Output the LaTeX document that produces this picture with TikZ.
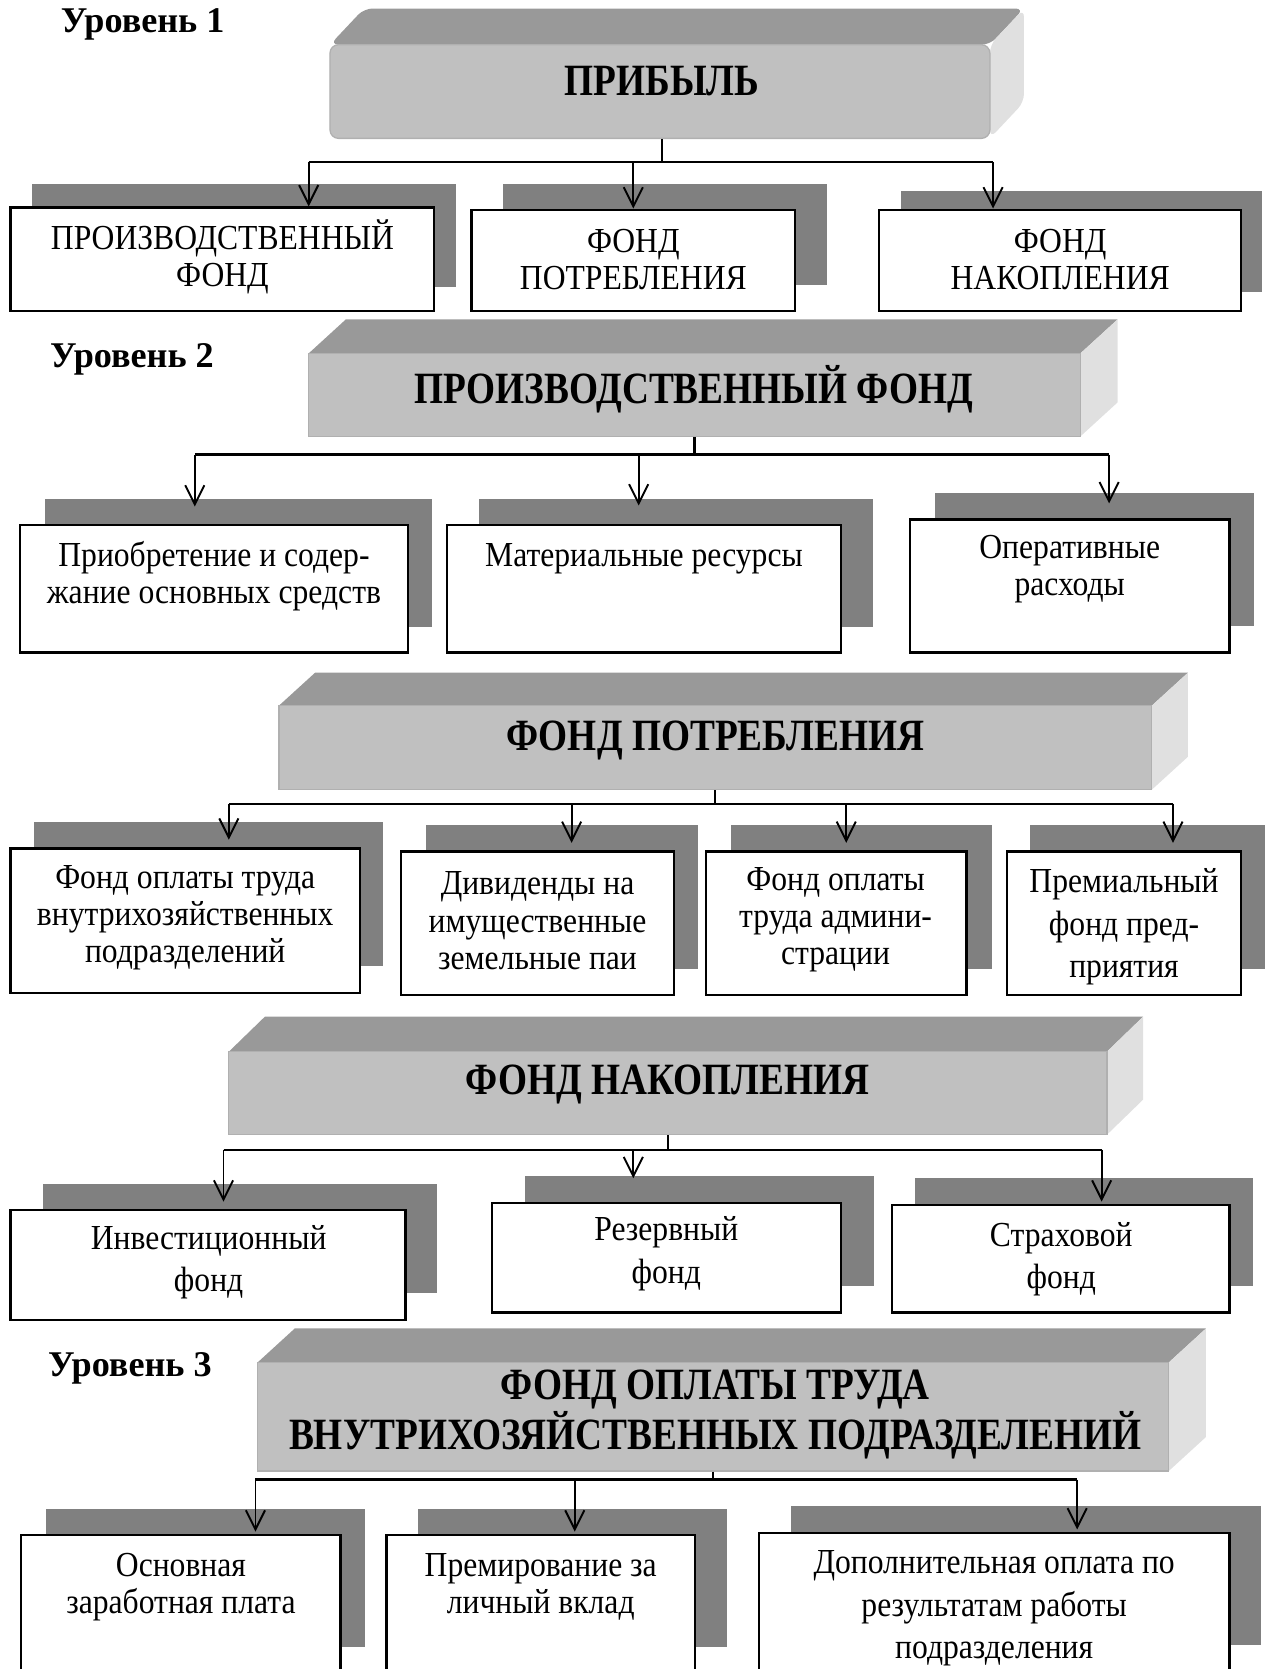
\documentclass[tikz,border=0pt]{standalone}
\usepackage{fontspec}
\setmainfont{Liberation Serif}
\newfontfamily\condfont[FakeStretch=0.9]{Liberation Serif}
\newfontfamily\hdrfont[FakeStretch=0.835]{Liberation Serif}
\usetikzlibrary{arrows.meta,calc}
\definecolor{topgray}{HTML}{999999}
\definecolor{frontgray}{HTML}{C0C0C0}
\definecolor{sidegray}{HTML}{E0E0E0}
\definecolor{shgray}{HTML}{808080}
\definecolor{edgegray}{HTML}{B0B0B0}
% child box: name x1 y1 x2 y2 dx dy
\newcommand{\cbox}[7]{%
  \fill[shgray] (#2+#6,#3-#7) rectangle (#4+#6,#5-#7);
  \node[cboxstyle, minimum width={(#4-#2)*0.5pt}, minimum height={(#5-#3)*0.5pt}] (#1) at ({(#2+#4)/2},{(#3+#5)/2}) {};
}
% header 3D box: [opts] name x1 y1 x2 y2 dx dy
\newcommand{\hdr}[8][]{%
  \fill[topgray,#1] (#3,#4) -- (#3+#7,#4-#8) -- (#5+#7,#4-#8) -- (#5,#4) -- cycle;
  \fill[sidegray,#1] (#5,#4) -- (#5+#7,#4-#8) -- (#5+#7,#6-#8) -- (#5,#6) -- cycle;
  \node[hboxstyle,#1, minimum width={(#5-#3)*0.5pt}, minimum height={(#6-#4)*0.5pt}] (#2) at ({(#3+#5)/2},{(#4+#6)/2}) {};
}
\begin{document}
\begin{tikzpicture}[x=0.5pt,y=-0.5pt,
  cboxstyle/.style={draw=black, line width=1.1pt, fill=white, inner sep=0pt},
  hboxstyle/.style={fill=frontgray, draw=edgegray, line width=0.6pt, inner sep=0pt},
  txt/.style={align=center, inner sep=0pt, font=\condfont\fontsize{16.5}{17.5}\selectfont},
  txtw/.style={align=center, inner sep=0pt, font=\condfont\fontsize{16.5}{20}\selectfont},
  htxt/.style={align=center, inner sep=0pt, font=\hdrfont\bfseries\fontsize{21}{20.5}\selectfont},
  lvl/.style={font=\bfseries\fontsize{17}{20}\selectfont, inner sep=0pt},
  conn/.style={line width=1pt},
  arr/.style={line width=0.9pt, -{Straight Barb[length=9pt,width=9pt,line width=0.9pt]}}
]
\useasboundingbox (0,0) rectangle (1195,1568);
\clip (0,0) rectangle (1195,1568);

% ---------------- Level labels
\node[lvl] (L1) at (134,23) {Уровень 1};
\node[lvl] (L2) at (124,338) {Уровень 2};
\node[lvl] (L3) at (122,1286) {Уровень 3};

% ---------------- Group 1
\hdr[rounded corners=4pt]{H1}{310}{42}{930}{130}{32}{34}
\node[htxt] (H1t) at (622,76) {ПРИБЫЛЬ};
\cbox{C11}{10}{195}{408}{292}{20}{22}
\cbox{C12}{443}{197}{747}{292}{30}{24}
\cbox{C13}{826}{197}{1166}{292}{20}{18}
\node[txt] (T11) at (209,241) {ПРОИЗВОДСТВЕННЫЙ\\ФОНД};
\node[txt] (T12) at (595,244) {ФОНД\\ПОТРЕБЛЕНИЯ};
\node[txt] (T13) at (996,244) {ФОНД\\НАКОПЛЕНИЯ};
\coordinate (b1l) at (290,152);
\coordinate (b1m) at (595,152);
\coordinate (b1r) at (933,152);
\draw[conn] (H1.south -| 622,0) -- (622,152);
\draw[conn] (b1l) -- (b1r);
\draw[arr] (b1l) -- (b1l |- C11.north);
\draw[arr] (b1m) -- (b1m |- C12.north);
\draw[arr] (b1r) -- (b1r |- C13.north);

% ---------------- Group 2
\hdr{H2}{290}{332}{1015}{410}{35}{32}
\node[htxt] (H2t) at (652,366) {ПРОИЗВОДСТВЕННЫЙ ФОНД};
\cbox{C21}{19}{493}{383}{613}{23}{24}
\cbox{C22}{420}{493}{790}{613}{30}{24}
\cbox{C23}{855}{488}{1155}{613}{23}{25}
\node[txt] (T21) at (201,541) {Приобретение и содер-\\жание основных средств};
\node[txt] (T22) at (605,525) {Материальные ресурсы};
\node[txt] (T23) at (1005,535) {Оперативные\\расходы};
\coordinate (b2l) at (183,427);
\coordinate (b2m) at (600,427);
\coordinate (b2r) at (1042,427);
\draw[conn] (H2.south) -- (H2.south |- b2l);
\draw[conn] (b2l) -- (b2r);
\draw[arr, shorten >=8pt] (b2l) -- (b2l |- C21.north);
\draw[arr, shorten >=8.5pt] (b2m) -- (b2m |- C22.north);
\draw[arr, shorten >=7pt] (b2r) -- (b2r |- C23.north);

% ---------------- Group 3
\hdr{H3}{262}{663}{1082}{742}{34}{31}
\node[htxt] (H3t) at (672,696) {ФОНД ПОТРЕБЛЕНИЯ};
\cbox{C31}{10}{797}{338}{933}{22}{25}
\cbox{C32}{377}{800}{633}{935}{23}{25}
\cbox{C33}{663}{800}{908}{935}{24}{25}
\cbox{C34}{946}{800}{1166}{935}{22}{25}
\node[txt] (T31) at (174,862) {Фонд оплаты труда\\внутрихозяйственных\\подразделений};
\node[txt] (T32) at (505,865) {Дивиденды на\\имущественные\\земельные паи};
\node[txt] (T33) at (785,864) {Фонд оплаты\\труда админи-\\страции};
\node[txtw] (T34) at (1056,871) {Премиальный\\фонд пред-\\приятия};
\coordinate (b3l) at (215,755);
\coordinate (b3a) at (537,755);
\coordinate (b3b) at (795,755);
\coordinate (b3r) at (1102,755);
\draw[conn] (H3.south) -- (H3.south |- b3l);
\draw[conn] (b3l) -- (b3r);
\draw[arr, shorten >=3.5pt] (b3l) -- (b3l |- C31.north);
\draw[arr, shorten >=3.5pt] (b3a) -- (b3a |- C32.north);
\draw[arr, shorten >=3.5pt] (b3b) -- (b3b |- C33.north);
\draw[arr, shorten >=3.5pt] (b3r) -- (b3r |- C34.north);

% ---------------- Group 4
\hdr{H4}{215}{988}{1040}{1066}{34}{33}
\node[htxt] (H4t) at (627,1019) {ФОНД НАКОПЛЕНИЯ};
\cbox{C41}{10}{1137}{381}{1240}{30}{25}
\cbox{C42}{462}{1130}{790}{1233}{31}{25}
\cbox{C43}{838}{1132}{1155}{1233}{22}{25}
\node[txtw] (T41) at (196,1186) {Инвестиционный\\фонд};
\node[txtw] (T42) at (626,1178) {Резервный\\фонд};
\node[txtw] (T43) at (997,1183) {Страховой\\фонд};
\coordinate (b4l) at (210,1080);
\coordinate (b4m) at (595,1080);
\coordinate (b4r) at (1035,1080);
\draw[conn] (H4.south) -- (H4.south |- b4l);
\draw[conn] (b4l) -- (b4r);
\draw[arr, shorten >=3.5pt] (b4l) -- (b4l |- C41.north);
\draw[arr, shorten >=11pt] (b4m) -- (b4m |- C42.north);
\draw[arr, shorten >=1pt] (b4r) -- (b4r |- C43.north);

% ---------------- Group 5
\hdr{H5}{242}{1280}{1098}{1382}{35}{32}
\node[htxt] (H5t) at (672,1329) {ФОНД ОПЛАТЫ ТРУДА\\ВНУТРИХОЗЯЙСТВЕННЫХ ПОДРАЗДЕЛЕНИЙ};
\cbox{C51}{20}{1442}{320}{1571}{23}{24}
\cbox{C52}{363}{1442}{653}{1571}{30}{24}
\cbox{C53}{713}{1440}{1155}{1570}{30}{25}
\node[txt] (T51) at (170,1491) {Основная\\заработная плата};
\node[txt] (T52) at (508,1491) {Премирование за\\личный вклад};
\node[txtw] (T53) at (934,1511) {Дополнительная оплата по\\результатам работы\\подразделения};
\coordinate (b5l) at (240,1390);
\coordinate (b5m) at (540,1390);
\coordinate (b5r) at (1012,1390);
\draw[conn] (H5.south) -- (H5.south |- b5l);
\draw[conn] (b5l) -- (b5r);
\draw[arr, shorten >=1pt] (b5l) -- (b5l |- C51.north);
\draw[arr, shorten >=1pt] (b5m) -- (b5m |- C52.north);
\draw[arr, shorten >=1pt] (b5r) -- (b5r |- C53.north);
\end{tikzpicture}
\end{document}
